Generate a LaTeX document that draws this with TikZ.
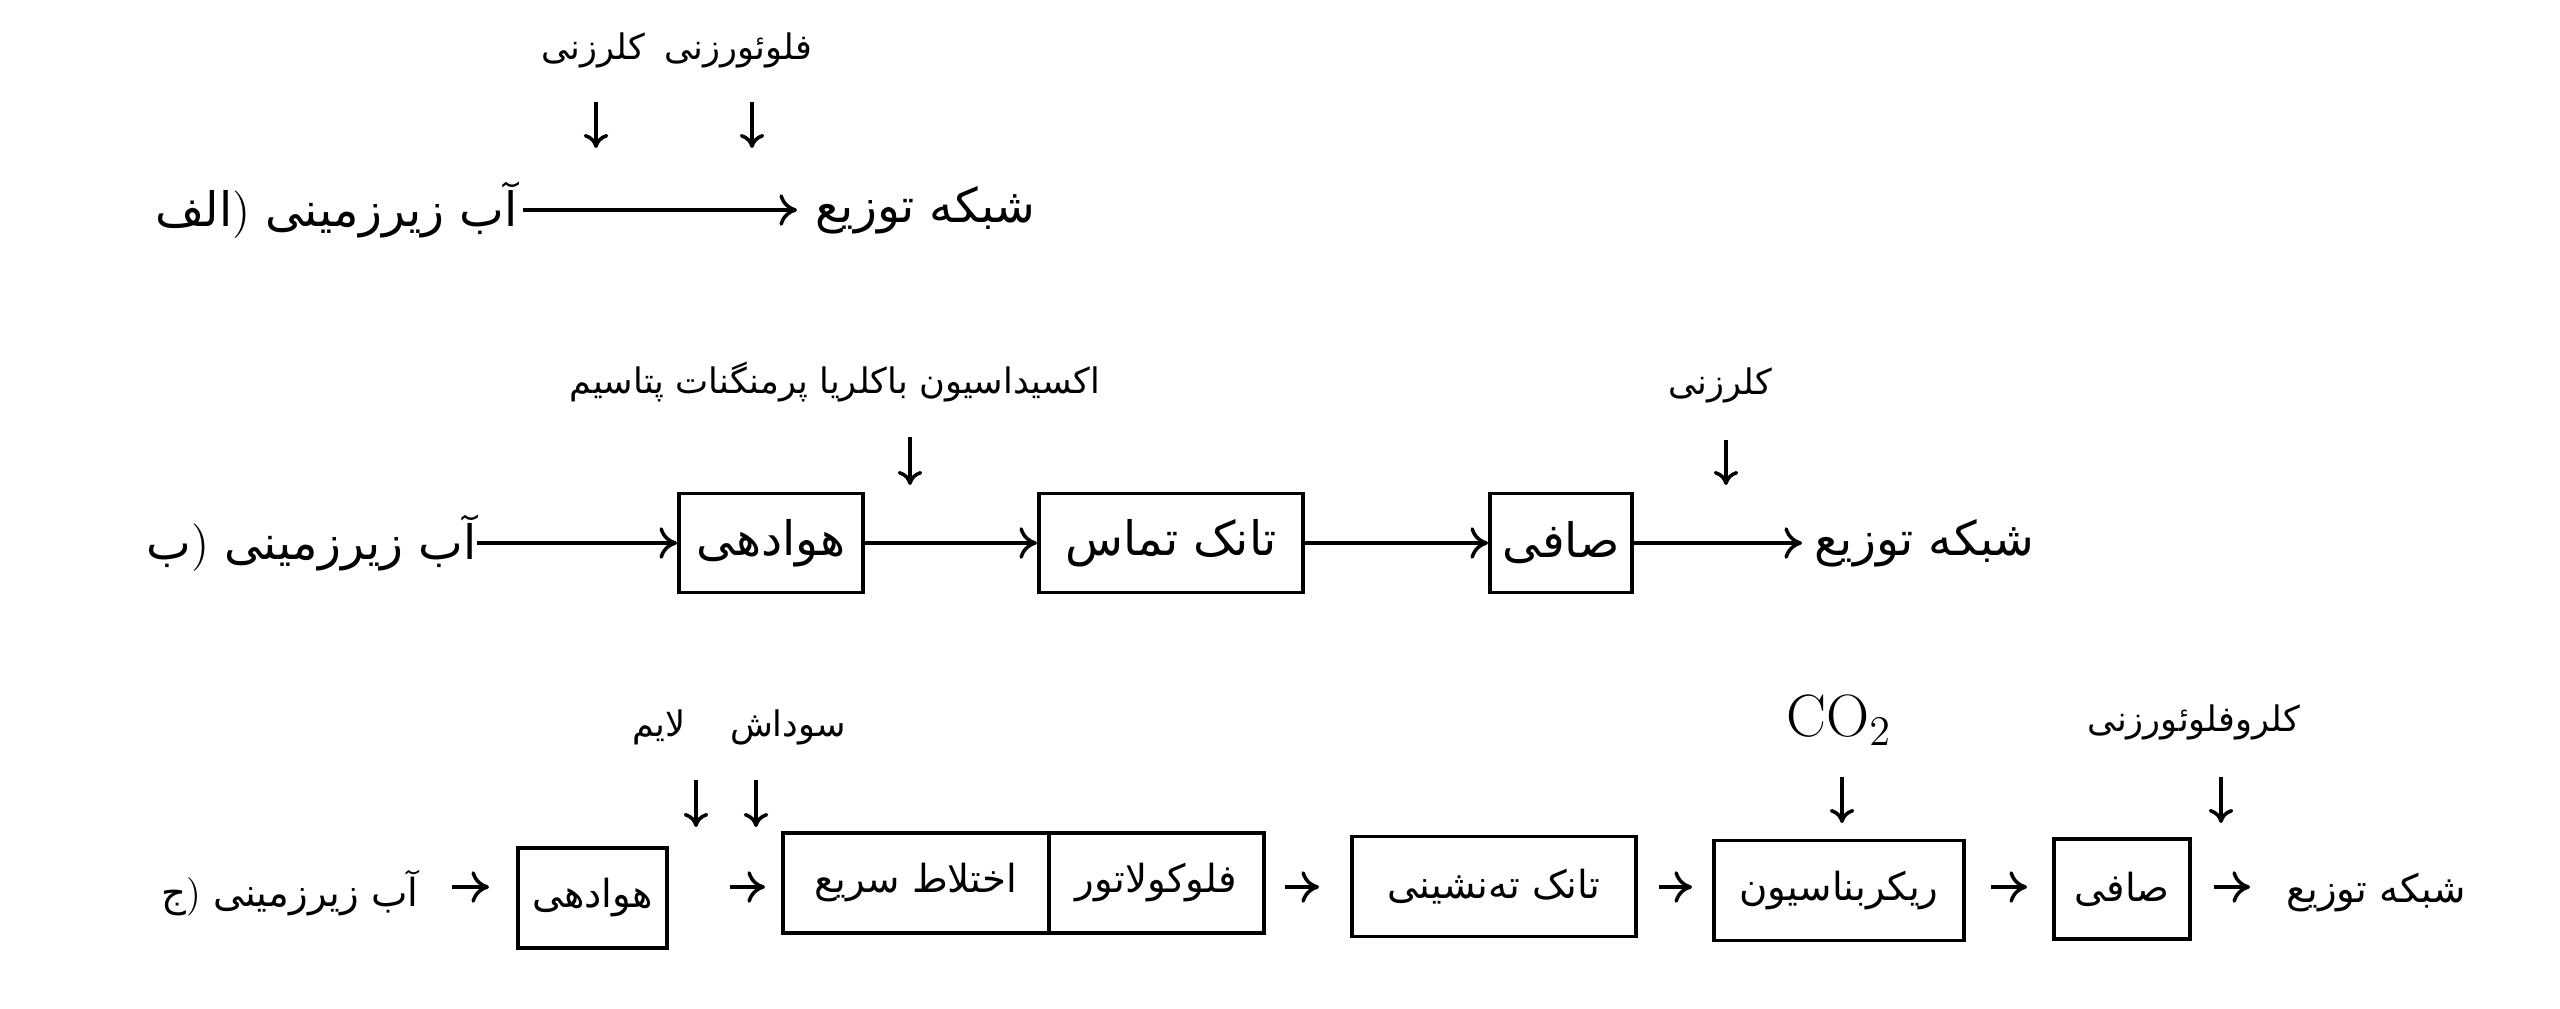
\documentclass[tikz,border=0pt]{standalone}
\usepackage{fontspec}
\newfontfamily\arabicfont[Script=Arabic]{DejaVu Sans}
\TeXXeTstate=1
\usetikzlibrary{arrows.meta}
\newcommand{\rtl}[1]{\beginR #1\endR}
\tikzset{
  flow/.style={-{To[length=5pt,width=9pt]}, line width=1pt},
  drop/.style={-{To[length=4pt,width=7pt]}, line width=1pt},
  bigtxt/.style={inner sep=0pt, font=\fontsize{13.5}{15}\selectfont\arabicfont},
  midtxt/.style={inner sep=0pt, font=\fontsize{11}{13}\selectfont\arabicfont},
  lbl/.style={inner sep=0pt, font=\fontsize{10}{12}\selectfont\arabicfont},
  stage/.style={draw, line width=1.1pt, inner sep=0pt, minimum height=0.99cm, font=\fontsize{13.5}{15}\selectfont\arabicfont},
  cstage/.style={draw, line width=1.1pt, inner sep=0pt, minimum height=1cm, font=\fontsize{11}{13}\selectfont\arabicfont},
}
\begin{document}
\begin{tikzpicture}[x=0.01cm, y=-0.01cm]
  %%%%% START %%%%%
  \useasboundingbox[fill=white] (0,0) rectangle (2560,1009);

  % --- row A
  \node[bigtxt, anchor=east] (ainp) at (518,210) {\rtl{آب زیرزمینی {\rmfamily)}الف}};
  \node[bigtxt, anchor=west] (aout) at (815,210) {\rtl{شبکه توزیع}};
  \draw[flow, shorten <=0.05cm, shorten >=0.18cm] (ainp.east) -- (aout.west);

  \node[lbl] (aclr) at (593,50) {\rtl{کلرزنی}};
  \node[lbl] (aflu) at (738,50) {\rtl{فلوئورزنی}};
  \coordinate (aclrT) at (596,102); \coordinate (aclrB) at (596,148);
  \coordinate (afluT) at (752,102); \coordinate (afluB) at (752,148);
  \draw[drop] (aclrT) -- (aclrB);
  \draw[drop] (afluT) -- (afluB);

  % --- row B
  \node[bigtxt, anchor=east] (binp) at (477,543) {\rtl{آب زیرزمینی {\rmfamily)}ب}};
  \node[stage, minimum width=1.84cm] (bhav) at (771,543) {\rtl{هوادهی}};
  \node[stage, minimum width=2.64cm] (btank) at (1171,543) {\rtl{تانک تماس}};
  \node[stage, minimum width=1.42cm] (bfil) at (1561,543) {\rtl{صافی}};
  \node[bigtxt, anchor=west] (bout) at (1814,543) {\rtl{شبکه توزیع}};
  \draw[flow] (binp.east) -- (bhav.west);
  \draw[flow] (bhav.east) -- (btank.west);
  \draw[flow] (btank.east) -- (bfil.west);
  \draw[flow, shorten >=0.12cm] (bfil.east) -- (bout.west);

  \node[lbl] (boxi) at (835,382) {\rtl{اکسیداسیون باکلریا پرمنگنات پتاسیم}};
  \node[lbl] (bclr) at (1720,385) {\rtl{کلرزنی}};
  \coordinate (boxiT) at (910,437); \coordinate (boxiB) at (910,485);
  \coordinate (bclrT) at (1726,440); \coordinate (bclrB) at (1726,485);
  \draw[drop] (boxiT) -- (boxiB);
  \draw[drop] (bclrT) -- (bclrB);

  % --- row C
  \coordinate (cline) at (0,887);
  \node[midtxt, anchor=east] (cinp) at (419,893) {\rtl{آب زیرزمینی {\rmfamily)}ج}};
  \node[cstage, minimum width=1.49cm] (chav) at (592.5,898) {\rtl{هوادهی}};
  \node[cstage, minimum width=2.66cm] (cmix) at (916,883) {\rtl{اختلاط سریع}};
  \node[cstage, minimum width=2.15cm] (cflo) at (1156.5,883) {\rtl{فلوکولاتور}};
  \node[cstage, minimum width=2.84cm] (csed) at (1494,886.5) {\rtl{تانک ته‌نشینی}};
  \node[cstage, minimum width=2.5cm] (crec) at (1839,890.5) {\rtl{ریکربناسیون}};
  \node[cstage, minimum width=1.36cm] (cfil) at (2122,889) {\rtl{صافی}};
  \node[midtxt, anchor=west] (cout) at (2286,893) {\rtl{شبکه توزیع}};
  \draw[flow, shorten <=0.33cm, shorten >=0.27cm] (cinp.east |- cline) -- (chav.west |- cline);
  \draw[flow, shorten <=0.61cm, shorten >=0.16cm] (chav.east |- cline) -- (cmix.west |- cline);
  \draw[flow, shorten <=0.19cm, shorten >=0.31cm] (cflo.east |- cline) -- (csed.west |- cline);
  \draw[flow, shorten <=0.21cm, shorten >=0.2cm] (csed.east |- cline) -- (crec.west |- cline);
  \draw[flow, shorten <=0.25cm, shorten >=0.25cm] (crec.east |- cline) -- (cfil.west |- cline);
  \draw[flow, shorten <=0.22cm, shorten >=0.36cm] (cfil.east |- cline) -- (cout.west |- cline);

  \node[lbl] (clim) at (659,727) {\rtl{لایم}};
  \node[lbl] (csod) at (788,727) {\rtl{سوداش}};
  \node[inner sep=0pt, font=\fontsize{17}{20}\selectfont] (cco) at (1839,720) {CO$_2$};
  \node[lbl] (cclf) at (2194,722) {\rtl{کلروفلوئورزنی}};
  \coordinate (climT) at (696,780); \coordinate (climB) at (696,827);
  \coordinate (csodT) at (756,780); \coordinate (csodB) at (756,827);
  \coordinate (ccoT) at (1842,777); \coordinate (ccoB) at (1842,823);
  \coordinate (cclfT) at (2221,777); \coordinate (cclfB) at (2221,823);
  \draw[drop] (climT) -- (climB);
  \draw[drop] (csodT) -- (csodB);
  \draw[drop] (ccoT) -- (ccoB);
  \draw[drop] (cclfT) -- (cclfB);

  %%%%% END %%%%%
\end{tikzpicture}
\end{document}
